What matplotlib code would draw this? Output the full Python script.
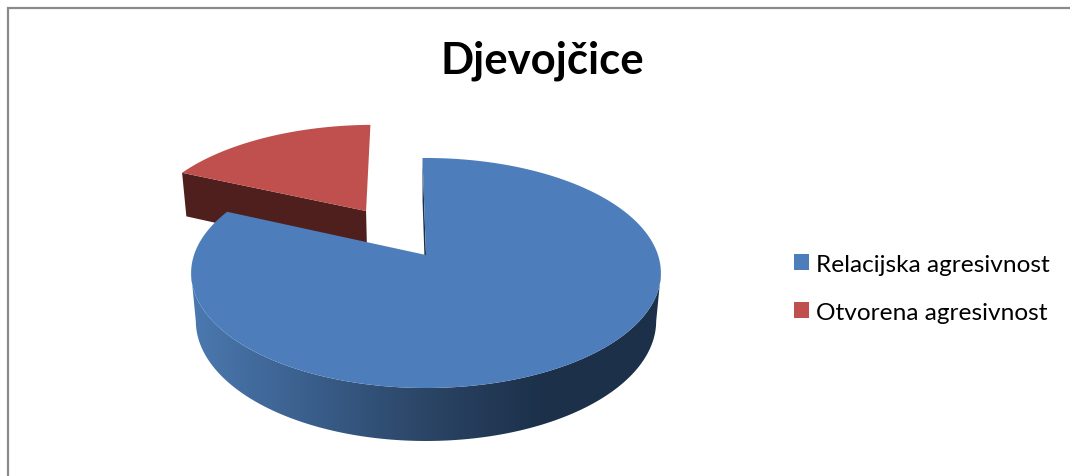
import numpy as np
import matplotlib
matplotlib.use('Agg')
import matplotlib.pyplot as plt
from matplotlib.colors import LinearSegmentedColormap
from matplotlib.patches import Patch, Polygon, Rectangle

# chart data
title = 'Djevojčice'
categories = ['Relacijska agresivnost', 'Otvorena agresivnost']
values = [82, 18]
colors = ['#4d7ebb', '#bf504d']
explode = [0.0, 0.5]

# 3D look of the pie, in pixels of the picture
CX, CY = 426, 256
RX, RY = 232, 112.2
DEPTH = 48.4
PERSP_V, PERSP_Z = 0.1565, 0.02
START_ANGLE = -1.0


def project(u, v, z=0.0):
    """Disk coordinates (u right, v away, z down) to picture pixels."""
    s = 1 / (1 + PERSP_V * v + PERSP_Z * z)
    return CX + RX * u * s, CY - (RY * v - DEPTH * z) * s


def rim(a0, a1, u0, v0, z=0.0):
    t = np.radians(np.linspace(a0, a1, 200))
    return np.column_stack(project(u0 + np.sin(t), v0 + np.cos(t), z))


plt.rcParams['font.family'] = ['Lato', 'DejaVu Sans']
fig = plt.figure(figsize=(10.7, 4.77), dpi=100)
ax = fig.add_axes([0, 0, 1, 1])
ax.set_xlim(0, 1070)
ax.set_ylim(477, 0)
ax.axis('off')

# chart frame, only top and left are in the picture
ax.add_patch(Rectangle((8, 8.5), 1200, 600, fc='white', ec='#8a8a8a', lw=1.6))

ax.text(542.5, 61, title, fontsize=31.4, fontweight='bold', ha='center', va='center', color='black')

# slice angles from the values
sweeps = np.array(values) / sum(values) * 360
ends = START_ANGLE + np.cumsum(sweeps)
starts = ends - sweeps

# red slice first, the blue one covers it
mid = np.radians((starts[1] + ends[1]) / 2)
u0, v0 = explode[1] * np.sin(mid), explode[1] * np.cos(mid)
t = np.radians(starts[1])
corner_top = project(u0 + np.sin(t), v0 + np.cos(t))
corner_bot = project(u0 + np.sin(t), v0 + np.cos(t), 1)
apex_top = project(u0, v0)
apex_bot = project(u0, v0, 1)
ax.add_patch(Polygon([corner_top, apex_top, apex_bot, corner_bot], fc='#4f1f1d', ec='none', zorder=3))
top_red = np.vstack([rim(starts[1], ends[1], u0, v0), [apex_top]])
ax.add_patch(Polygon(top_red, fc=colors[1], ec='none', zorder=4))

# blue slice: cut wall, round wall with gradient, top
t = np.radians(starts[0])
wall = [project(0, 0), project(np.sin(t), np.cos(t)), project(np.sin(t), np.cos(t), 1), project(0, 0, 1)]
ax.add_patch(Polygon(wall, fc='#1c3049', ec='none', zorder=5))

# round wall runs between the two angles where the outline turns vertical
side_angle = np.degrees(np.arccos(-PERSP_V))
wall_top = rim(side_angle, 360 - side_angle, 0, 0)
wall_bot = rim(side_angle, 360 - side_angle, 0, 0, 1)
clip = Polygon(np.vstack([wall_top, wall_bot[::-1]]), fc='none', ec='none', transform=ax.transData)
ax.add_patch(clip)
grad = LinearSegmentedColormap.from_list('side', ['#4b79b0', '#3a5f8c', '#2b4566', '#1c3049', '#1c3049'])
img = ax.imshow(np.linspace(0, 1, 256)[None, :], extent=(190, 662, 445, 200), cmap=grad,
                aspect='auto', zorder=6)
img.set_clip_path(clip)
ax.set_xlim(0, 1070)
ax.set_ylim(477, 0)

top_blue = np.vstack([rim(starts[0], ends[0], 0, 0), [project(0, 0)]])
ax.add_patch(Polygon(top_blue, fc=colors[0], ec='none', zorder=7))

handles = [Patch(fc=c, ec='none') for c in colors]
ax.legend(handles, categories, loc='upper left', bbox_to_anchor=(794, 254.5), bbox_transform=ax.transData,
          frameon=False, fontsize=17.6, handlelength=0.62, handleheight=0.62, handletextpad=0.3,
          labelspacing=1.11, borderpad=0, borderaxespad=0, labelcolor='black')

fig.savefig('out.png', dpi=100, facecolor='white')
